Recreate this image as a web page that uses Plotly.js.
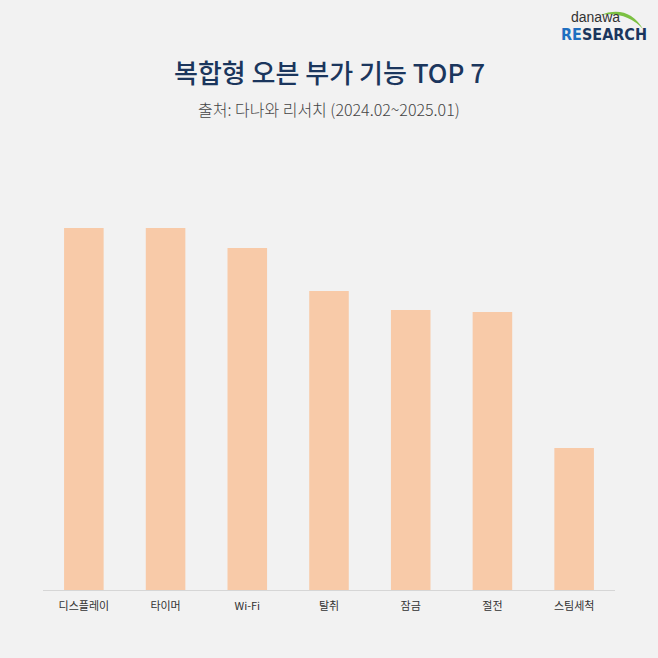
<!DOCTYPE html>
<html>
<head>
<meta charset="utf-8">
<script src="https://cdn.plot.ly/plotly-3.0.1.min.js"></script>
<style>
html,body{margin:0;padding:0;background:#f2f2f2;}
#chart{width:658px;height:658px;}
</style>
</head>
<body>
<div id="chart"></div>
<script>
// Data (relative values)
const categories = ["디스플레이", "타이머", "Wi-Fi", "탈취", "잠금", "절전", "스팀세척"];
const values = [362, 362, 342, 299, 280, 278, 142];

const titleText = "복합형 오븐 부가 기능 TOP 7";
const subtitleText = "출처: 다나와 리서치 (2024.02~2025.01)";

const W = 658, H = 658;
const mL = 43, mR = 43, mT = 140, mB = 68;
const plotW = W - mL - mR, plotH = H - mT - mB;
function px(x){ return (x - mL) / plotW; }
function py(y){ return (H - mB - y) / plotH; }

const arcPath = "M " + px(600) + "," + py(15) +
  " Q " + px(628) + "," + py(4) + " " + px(643) + "," + py(29) +
  " Q " + px(626) + "," + py(11) + " " + px(600) + "," + py(15) + " Z";

const trace = {
  type: "bar",
  x: categories,
  y: values,
  marker: {color: "#f8caa8", line: {width: 0}},
  hoverinfo: "none"
};

const layout = {
  width: W, height: H,
  margin: {l: mL, r: mR, t: mT, b: mB},
  paper_bgcolor: "#f2f2f2",
  plot_bgcolor: "#f2f2f2",
  bargap: 0.516,
  showlegend: false,
  xaxis: {
    type: "category",
    showgrid: false,
    zeroline: false,
    showline: true,
    linecolor: "#d6d6d6",
    linewidth: 1,
    ticks: "",
    ticklabelstandoff: 6,
    tickfont: {family: "Noto Sans CJK KR, Noto Sans, sans-serif", size: 11, color: "#333333", weight: 400},
    fixedrange: true
  },
  yaxis: {
    range: [0, 450],
    visible: false,
    showgrid: false,
    zeroline: false,
    fixedrange: true
  },
  annotations: [
    {
      text: titleText, xref: "paper", yref: "paper",
      x: px(329), y: py(72), xanchor: "center", yanchor: "middle",
      showarrow: false,
      font: {family: "Noto Sans CJK KR, sans-serif", size: 26, color: "#1b365d", weight: 500}
    },
    {
      text: subtitleText, xref: "paper", yref: "paper",
      x: px(329), y: py(109), xanchor: "center", yanchor: "middle",
      showarrow: false,
      font: {family: "Noto Sans CJK KR, sans-serif", size: 16, color: "#444444", weight: 300}
    },
    {
      text: "danawa", xref: "paper", yref: "paper",
      x: px(595), y: py(17), xanchor: "center", yanchor: "middle",
      showarrow: false,
      font: {family: "Liberation Sans, Arial, sans-serif", size: 14, color: "#333333"}
    },
    {
      text: "<span style='color:#1f6fc0'>RE</span>SEARCH", xref: "paper", yref: "paper",
      x: px(604), y: py(35), xanchor: "center", yanchor: "middle",
      showarrow: false,
      font: {family: "Liberation Sans Narrow, Arial Narrow, DejaVu Sans Condensed, sans-serif", size: 16, color: "#1b365d", weight: 700}
    }
  ],
  shapes: [
    {
      type: "path", xref: "paper", yref: "paper",
      path: arcPath,
      fillcolor: "#7cc143", line: {width: 0}
    }
  ]
};

Plotly.newPlot("chart", [trace], layout, {displayModeBar: false, staticPlot: true});
</script>
</body>
</html>
